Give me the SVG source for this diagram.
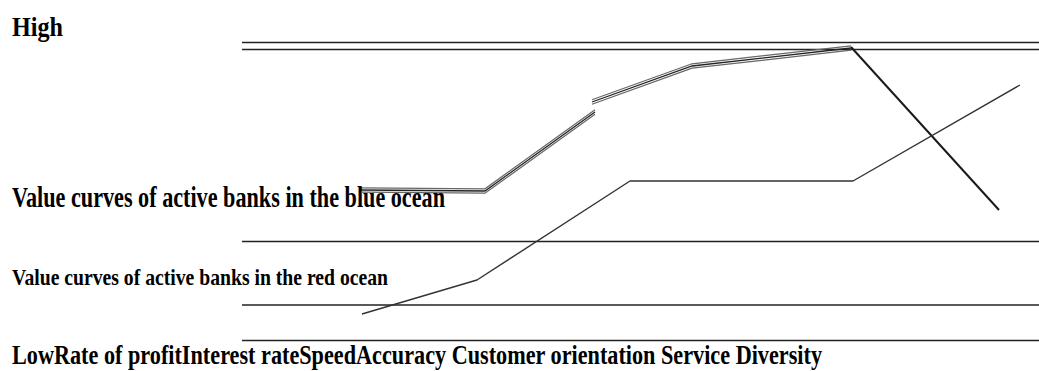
<svg xmlns="http://www.w3.org/2000/svg" width="1039" height="371" viewBox="0 0 1039 371">
  <style>
    .lbl { font-family: "Liberation Serif", "Times New Roman", serif; font-weight: bold; fill: #000; }
    .grid { stroke: #222; stroke-width: 1.6; fill: none; }
    .blue { stroke: #666; stroke-width: 1.2; fill: none; }
    .blue-core { stroke: #222; stroke-width: 1.3; fill: none; }
    .red { stroke: #333; stroke-width: 1.4; fill: none; stroke-linejoin: round; }
    .drop { stroke: #1a1a1a; stroke-width: 2; fill: none; }
  </style>
  <rect width="1039" height="371" fill="#fff"/>

  <!-- level lines -->
  <g id="levels">
    <line class="grid" x1="242" y1="42.5" x2="1039" y2="42.5"/>
    <line class="grid" x1="242" y1="49.5" x2="1039" y2="49.5"/>
    <line class="grid" x1="242" y1="241.5" x2="1039" y2="241.5"/>
    <line class="grid" x1="242" y1="305" x2="1039" y2="305"/>
    <line class="grid" x1="242" y1="340.5" x2="1039" y2="340.5"/>
  </g>

  <!-- value curves -->
  <g id="connectors">
    <g id="blue-curve">
      <g transform="translate(0,-2.2)">
        <polyline class="blue" points="360,190 485,191 595,112"/>
        <polyline class="blue" points="592,102 692,66 851,48"/>
      </g>
      <polyline class="blue-core" points="360,190 485,191 595,112"/>
      <polyline class="blue-core" points="592,102 692,66 851,48"/>
      <g transform="translate(0,2.2)">
        <polyline class="blue" points="362,190 485,191 595,112"/>
        <polyline class="blue" points="592,102 692,66 851,48"/>
      </g>
      <line class="drop" x1="851" y1="47" x2="999" y2="210"/>
    </g>
    <polyline id="red-curve" class="red" points="362,314 477,280 630,181 853,181 1020,85"/>
  </g>

  <!-- axis and curve labels -->
  <g id="label-high">
    <text class="lbl" x="12" y="36" font-size="28" textLength="51" lengthAdjust="spacingAndGlyphs">High</text>
  </g>
  <g id="label-blue">
    <text class="lbl" x="12" y="207" font-size="29" textLength="433" lengthAdjust="spacingAndGlyphs">Value curves of active banks in the blue ocean</text>
  </g>
  <g id="label-red">
    <text class="lbl" x="12" y="285" font-size="23" textLength="376" lengthAdjust="spacingAndGlyphs">Value curves of active banks in the red ocean</text>
  </g>
  <g id="label-low">
    <text class="lbl" x="12" y="364" font-size="27" textLength="810" lengthAdjust="spacingAndGlyphs">LowRate of profitInterest rateSpeedAccuracy Customer orientation Service Diversity</text>
  </g>
</svg>
